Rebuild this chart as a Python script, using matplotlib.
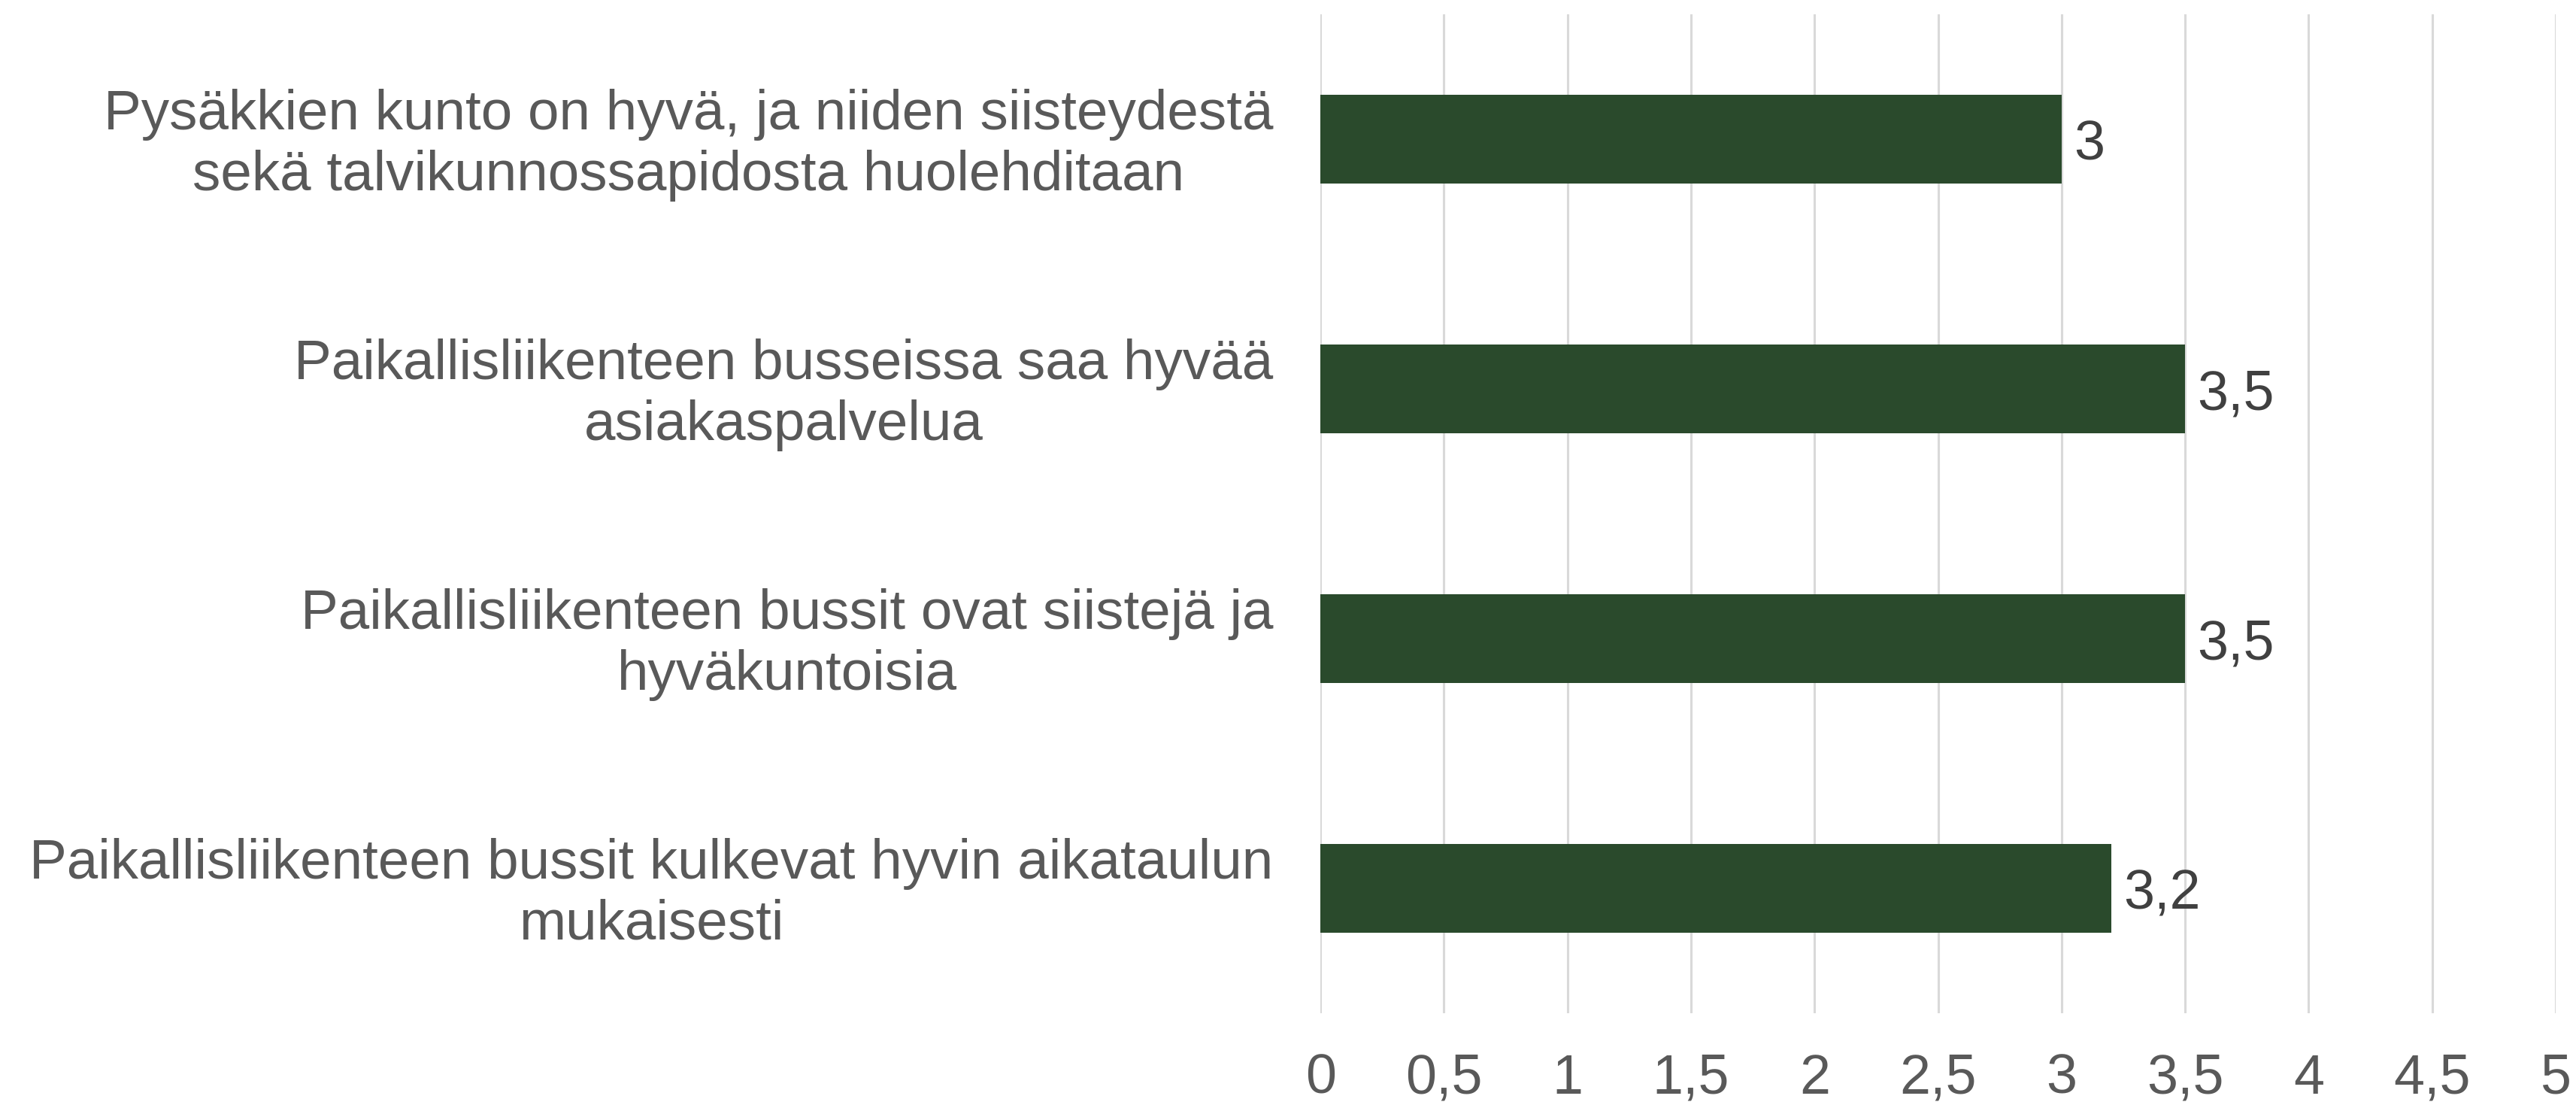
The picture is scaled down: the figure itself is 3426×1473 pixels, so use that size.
import matplotlib
matplotlib.use('Agg')
from matplotlib import pyplot as plt
from matplotlib import transforms

# Data
categories = [
    'Pysäkkien kunto on hyvä, ja niiden siisteydestä\nsekä talvikunnossapidosta huolehditaan',
    'Paikallisliikenteen busseissa saa hyvää\nasiakaspalvelua',
    'Paikallisliikenteen bussit ovat siistejä ja\nhyväkuntoisia',
    'Paikallisliikenteen bussit kulkevat hyvin aikataulun\nmukaisesti',
]
values = [3.0, 3.5, 3.5, 3.2]
value_labels = ['3', '3,5', '3,5', '3,2']
xticks = [0, 0.5, 1, 1.5, 2, 2.5, 3, 3.5, 4, 4.5, 5]
xtick_labels = ['0', '0,5', '1', '1,5', '2', '2,5', '3', '3,5', '4', '4,5', '5']

plt.rcParams['font.family'] = ['Liberation Sans', 'DejaVu Sans']

fig = plt.figure(figsize=(34.26, 14.73), dpi=100)
ax = fig.add_axes([0.5126, 0.0855, 0.4795, 0.9016])

ypos = list(range(len(categories)))
ax.barh(ypos, values, height=0.353, color='#2A4A2C', zorder=3)

for y, v, lab in zip(ypos, values, value_labels):
    ax.text(v + 0.05, y, lab, va='center_baseline', ha='left', fontsize=53, color='#404040')

ax.set_xlim(0, 5)
ax.set_ylim(3.5, -0.5)
ax.set_xticks(xticks)
ax.set_xticklabels(xtick_labels, fontsize=53, color='#595959')
ax.set_yticks(ypos)
ax.tick_params(axis='x', length=0, pad=38)
ax.tick_params(axis='y', length=0, pad=45)
ax.set_yticklabels(categories, fontsize=53.7, color='#595959', multialignment='center',
                   linespacing=1.22, va='center')

# nudge category labels down a little
shift = transforms.ScaledTranslation(0, -0.08, fig.dpi_scale_trans)
for lbl in ax.get_yticklabels():
    lbl.set_transform(lbl.get_transform() + shift)

ax.grid(axis='x', color='#D9D9D9', linewidth=2.2, zorder=0)
for s in ax.spines.values():
    s.set_visible(False)

fig.savefig('out.png', dpi=100)
